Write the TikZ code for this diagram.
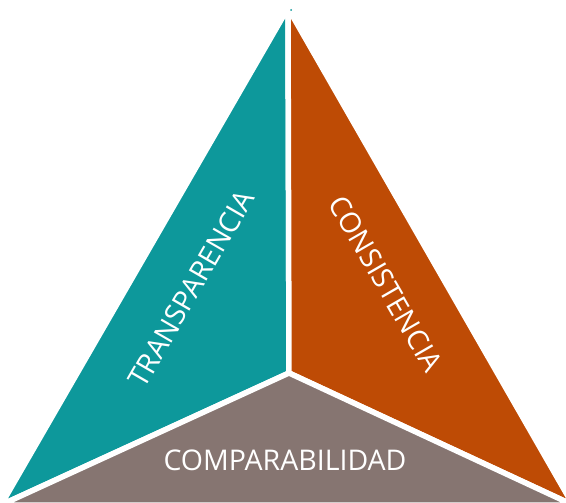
\documentclass[tikz,border=0pt]{standalone}
\usepackage{fontspec}
\setmainfont{Open Sans}
\definecolor{tealc}{RGB}{13,152,155}
\definecolor{orangec}{RGB}{190,75,5}
\definecolor{grayc}{RGB}{134,117,113}
\begin{document}
\begin{tikzpicture}[x=1pt,y=-1pt,
  piece/.style={draw=white,line width=5.5pt,line join=miter},
  lbl/.style={text=white,font=\fontsize{28.5}{32}\selectfont,inner sep=0pt}]
\useasboundingbox (0,0) rectangle (566,503);
\clip (0,0) rectangle (566,503);
\coordinate (A) at (288,8);
\coordinate (BL) at (1,505);
\coordinate (BR) at (573,505);
\coordinate (C) at (289,373);
\filldraw[piece,fill=tealc] (A) -- (BL) -- (C) -- cycle;
\filldraw[piece,fill=orangec] (A) -- (C) -- (BR) -- cycle;
\filldraw[piece,fill=grayc] (C) -- (BL) -- (BR) -- cycle;
\fill[tealc] (291,10) circle (1pt);
\node[lbl,rotate=60] (t) at (191,289) {TRANSPARENCIA};
\node[lbl,rotate=-60] (c) at (386,284) {CONSISTENCIA};
\node[lbl] (p) at (285,460) {COMPARABILIDAD};
\end{tikzpicture}
\end{document}
